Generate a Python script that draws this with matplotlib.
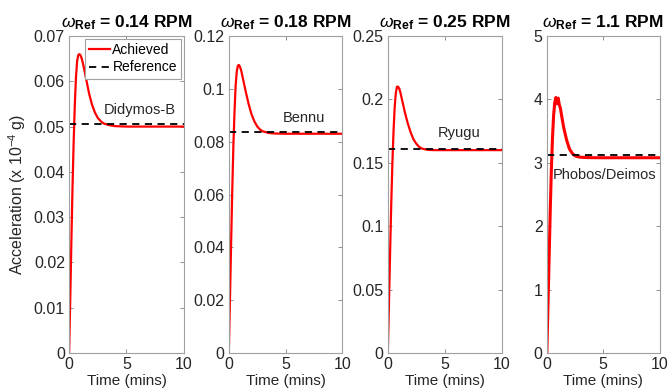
import matplotlib.pyplot as plt

plt.rcParams['font.family'] = ['Liberation Sans', 'DejaVu Sans']
plt.rcParams['mathtext.fontset'] = 'custom'
plt.rcParams['mathtext.rm'] = 'Liberation Sans'
plt.rcParams['mathtext.it'] = 'Liberation Sans:italic'
plt.rcParams['mathtext.bf'] = 'Liberation Sans:bold'

# time axis (minutes)
t = [0, 0.1, 0.2, 0.3, 0.4, 0.5, 0.6, 0.7, 0.8, 0.9, 1.0, 1.1, 1.2, 1.35, 1.5,
     1.75, 2.0, 2.25, 2.5, 2.75, 3.0, 3.5, 4.0, 5.0, 6.0, 8.0, 10.0]

# achieved acceleration (x 1e-4 g)
didymos = [0, 0.012, 0.025, 0.037, 0.047, 0.055, 0.061, 0.0645, 0.0658, 0.066, 0.0657,
           0.065, 0.064, 0.0622, 0.0603, 0.0572, 0.0548, 0.0531, 0.0519, 0.0512, 0.0507,
           0.0503, 0.0501, 0.0500, 0.0500, 0.0500, 0.0500]
bennu = [0, 0.02, 0.041, 0.061, 0.078, 0.091, 0.101, 0.1065, 0.1088, 0.109, 0.1082,
         0.1068, 0.1048, 0.1018, 0.0988, 0.0942, 0.0904, 0.0877, 0.0858, 0.0846, 0.0839,
         0.0833, 0.0831, 0.0830, 0.0830, 0.0830, 0.0830]
ryugu = [0, 0.04, 0.08, 0.118, 0.15, 0.175, 0.194, 0.205, 0.21, 0.21, 0.2085,
         0.2055, 0.2015, 0.1955, 0.1895, 0.181, 0.174, 0.1685, 0.165, 0.1625, 0.1612,
         0.1602, 0.1600, 0.1600, 0.1600, 0.1600, 0.1600]
phobos = [0, 0.75, 1.5, 2.25, 2.9, 3.4, 3.75, 3.95, 4.03, 3.93, 4.02,
          3.92, 3.86, 3.7, 3.55, 3.36, 3.22, 3.15, 3.11, 3.095, 3.088,
          3.083, 3.081, 3.08, 3.08, 3.08, 3.08]

# reference levels
ref_levels = [0.0505, 0.0835, 0.161, 3.12]
achieved = [didymos, bennu, ryugu, phobos]
rpm = ['0.14', '0.18', '0.25', '1.1']
bodies = ['Didymos-B', 'Bennu', 'Ryugu', 'Phobos/Deimos']
label_pos = [(3.0, 0.0537), (4.8, 0.089), (4.4, 0.1735), (0.5, 2.92)]
label_va = ['center', 'center', 'center', 'top']
ylims = [0.07, 0.12, 0.25, 5]
yticks = [
    [0, 0.01, 0.02, 0.03, 0.04, 0.05, 0.06, 0.07],
    [0, 0.02, 0.04, 0.06, 0.08, 0.1, 0.12],
    [0, 0.05, 0.1, 0.15, 0.2, 0.25],
    [0, 1, 2, 3, 4, 5],
]
yticklabels = [
    ['0', '0.01', '0.02', '0.03', '0.04', '0.05', '0.06', '0.07'],
    ['0', '0.02', '0.04', '0.06', '0.08', '0.1', '0.12'],
    ['0', '0.05', '0.1', '0.15', '0.2', '0.25'],
    ['0', '1', '2', '3', '4', '5'],
]

fig = plt.figure(figsize=(6.71, 3.91), dpi=100)

lefts = [0.103, 0.341, 0.578, 0.815]
widths = [0.171, 0.169, 0.170, 0.168]

for i in range(4):
    ax = fig.add_axes([lefts[i], 0.097, widths[i], 0.811])
    lw = 2.2 if i == 3 else 1.6
    ax.plot(t, achieved[i], color='#ff0000', lw=lw, label='Achieved')
    ax.plot([0, 10], [ref_levels[i], ref_levels[i]], color='black', lw=1.3,
            linestyle=(0, (4, 3)), label='Reference')
    ax.set_xlim(0, 10)
    ax.set_ylim(0, ylims[i])
    ax.set_xticks([0, 5, 10])
    ax.set_yticks(yticks[i])
    ax.set_yticklabels(yticklabels[i])
    ax.tick_params(direction='in', top=True, right=True, labelsize=11.5,
                   colors='#262626', length=3, width=0.6, pad=3)
    ax.tick_params(axis='both', color='#808080')
    for s in ax.spines.values():
        s.set_color('#a0a0a0')
        s.set_linewidth(0.8)
    ax.set_xlabel('Time (mins)', fontsize=11, color='#262626', labelpad=1)
    ax.set_title(r'$\omega_{\mathbf{Ref}}$' + ' = ' + rpm[i] + ' RPM',
                 fontsize=12.5, fontweight='bold', pad=6)
    ax.text(label_pos[i][0], label_pos[i][1], bodies[i], fontsize=10.5,
            va=label_va[i], ha='left', color='#262626')
    if i == 0:
        ax.set_ylabel(r'Acceleration (x 10$^{-4}$ g)', fontsize=11.5, color='#262626')
        leg = ax.legend(loc='upper right', fontsize=10, handlelength=1.5,
                        handletextpad=0.2, borderpad=0.3, labelspacing=0.25,
                        fancybox=False, framealpha=1, borderaxespad=0.2)
        leg.get_frame().set_edgecolor('#a0a0a0')
        leg.get_frame().set_linewidth(0.8)

plt.savefig('out.png', dpi=100)
